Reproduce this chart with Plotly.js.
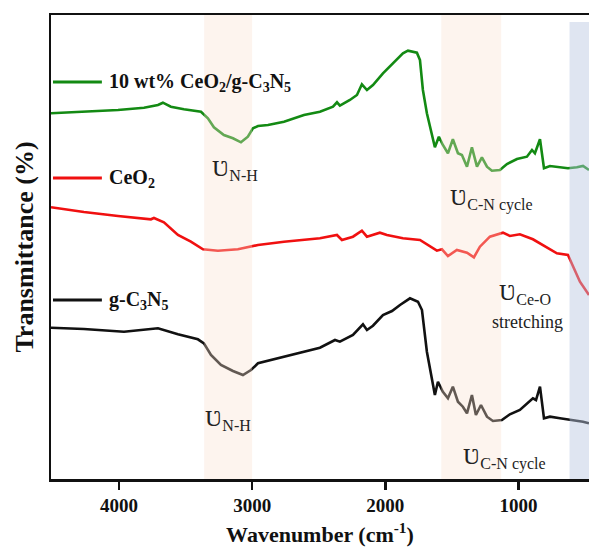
<!DOCTYPE html>
<html>
<head>
<meta charset="utf-8">
<script src="https://cdn.plot.ly/plotly-3.0.1.min.js"></script>
<style>html,body{margin:0;padding:0;background:#fff;}#chart{width:589px;height:556px;}</style>
</head>
<body>
<div id="chart"></div>
<script>
// Wavenumber (cm^-1) and transmittance (arbitrary offset units)
const compositeWn = [4510,4263,4007,3812,3707,3670,3610,3512,3384,3332,3287,3212,3144,3084,3032,2994,2956,2881,2761,2611,2491,2393,2363,2341,2266,2213,2176,2138,2093,2018,1943,1868,1830,1763,1740,1718,1688,1650,1628,1598,1568,1530,1493,1455,1425,1387,1350,1312,1275,1237,1200,1140,1087,1012,937,899,877,839,809,764,689,629,562,516,471];
const compositeT  = [365.7,367.3,369,371.3,374,376.3,372.3,369.7,367.3,360.7,351.7,344,340.7,336.7,342.3,350.7,353,354,357.3,364,367.3,372.3,376.7,373.3,379,384,394.7,389,394,405.7,415.7,425.7,428.3,426.3,419,389,365.7,342.3,331.7,342.3,334,325.7,339.7,325.7,324,312.3,331.7,312.3,321.7,312.3,308.3,309,315,320,322.3,329,325.7,339.7,310.7,313,311.3,310.7,311.7,313,309];

const ceo2Wn = [4510,4263,4007,3857,3760,3737,3662,3557,3460,3369,3257,3107,2956,2761,2491,2363,2326,2243,2176,2138,2041,1988,1868,1740,1665,1613,1575,1530,1463,1387,1335,1290,1215,1117,1065,990,892,787,712,629,592,539,471];
const ceo2T  = [271.7,267,263,261.3,259.7,261,256.7,244,237.3,229.7,228.3,229.7,234,237.3,240.7,244,239,242.3,248.3,242.3,246.3,244,240.7,239,232.3,228.3,229.7,223,229,226.3,221.7,232.3,242.3,246.3,243,244.7,239.7,231.7,225.7,224,212.3,197.3,184];

const gc3n5Wn = [4510,4263,3962,3707,3557,3407,3362,3309,3234,3144,3069,3009,2956,2761,2491,2378,2341,2243,2168,2138,2093,2018,1950,1890,1815,1755,1725,1688,1650,1628,1605,1568,1530,1493,1455,1418,1387,1350,1320,1282,1237,1192,1125,1065,990,929,892,869,839,809,764,689,592,516,471];
const gc3n5T  = [151.3,150,147.3,150.7,144.7,139.7,135.7,124,114,108,104,109,115.7,122.3,131.3,139,137.3,144,154.7,149,153.3,164,168,174,180.7,177.3,169,127.3,97.3,84,97.3,87.3,80.7,92.3,77.3,72.3,65.7,84,64,74,62.3,58,59,64.7,69,75.7,80.7,79,92.3,60.7,62.3,60.7,59,57.3,55.7];

const seriesNames = ["10 wt% CeO<sub>2</sub>/g-C<sub>3</sub>N<sub>5</sub>", "CeO<sub>2</sub>", "g-C<sub>3</sub>N<sub>5</sub>"];
const xTickVals = [4000, 3000, 2000, 1000];
const xTickText = ["4000", "3000", "2000", "1000"];
// highlighted bands [from, to] in cm^-1
const bandNH = [3360, 3000];
const bandCN = [1580, 1130];
const bandCeO = [617, 471];

const serif = "'Liberation Serif','Times New Roman',serif";
const colors = ["#138a13", "#f01010", "#111111"];

const traces = [
  {x: compositeWn, y: compositeT, mode: "lines", line: {color: colors[0], width: 2.6}, showlegend: false, hoverinfo: "skip"},
  {x: ceo2Wn, y: ceo2T, mode: "lines", line: {color: colors[1], width: 2.6}, showlegend: false, hoverinfo: "skip"},
  {x: gc3n5Wn, y: gc3n5T, mode: "lines", line: {color: colors[2], width: 2.6}, showlegend: false, hoverinfo: "skip"}
];

const shapes = [
  {type: "rect", xref: "x", yref: "paper", x0: bandNH[0], x1: bandNH[1], y0: 0, y1: 1, fillcolor: "rgb(249,224,206)", opacity: 0.35, line: {width: 0}, layer: "above"},
  {type: "rect", xref: "x", yref: "paper", x0: bandCN[0], x1: bandCN[1], y0: 0, y1: 1, fillcolor: "rgb(249,224,206)", opacity: 0.35, line: {width: 0}, layer: "above"},
  {type: "rect", xref: "x", yref: "paper", x0: bandCeO[0], x1: bandCeO[1], y0: 0, y1: 0.985, fillcolor: "rgb(185,198,225)", opacity: 0.45, line: {width: 0}, layer: "above"},
  // legend keys
  {type: "line", xref: "x", yref: "y", x0: 4495, x1: 4128, y0: 397, y1: 397, line: {color: colors[0], width: 3}},
  {type: "line", xref: "x", yref: "y", x0: 4495, x1: 4128, y0: 301, y1: 301, line: {color: colors[1], width: 3}},
  {type: "line", xref: "x", yref: "y", x0: 4495, x1: 4128, y0: 179, y1: 179, line: {color: colors[2], width: 3}}
];

const legendFont = {family: serif, size: 20, color: "#111", weight: "bold"};
const labelFont = {family: serif, size: 24, color: "#222"};
const sym = "\u01B2";
const annotations = [
  {x: 4090, y: 397, xref: "x", yref: "y", text: seriesNames[0], showarrow: false, xanchor: "left", yanchor: "middle", font: legendFont},
  {x: 4090, y: 301, xref: "x", yref: "y", text: seriesNames[1], showarrow: false, xanchor: "left", yanchor: "middle", font: legendFont},
  {x: 4090, y: 179, xref: "x", yref: "y", text: seriesNames[2], showarrow: false, xanchor: "left", yanchor: "middle", font: legendFont},
  {x: 3129, y: 310, xref: "x", yref: "y", text: sym + "<sub><span style='font-size:16px'>N-H</span></sub>", showarrow: false, font: labelFont},
  {x: 3182, y: 60, xref: "x", yref: "y", text: sym + "<sub><span style='font-size:16px'>N-H</span></sub>", showarrow: false, font: labelFont},
  {x: 1200, y: 280, xref: "x", yref: "y", text: sym + "<sub><span style='font-size:16px'>C-N cycle</span></sub>", showarrow: false, font: labelFont},
  {x: 952, y: 186, xref: "x", yref: "y", text: sym + "<sub><span style='font-size:16px'>Ce-O</span></sub>", showarrow: false, font: labelFont},
  {x: 929, y: 157, xref: "x", yref: "y", text: "stretching", showarrow: false, font: {family: serif, size: 18, color: "#222"}},
  {x: 1102, y: 21, xref: "x", yref: "y", text: sym + "<sub><span style='font-size:16px'>C-N cycle</span></sub>", showarrow: false, font: labelFont}
];

const layout = {
  width: 589, height: 556,
  margin: {l: 51, r: 0, t: 15, b: 77},
  paper_bgcolor: "#ffffff", plot_bgcolor: "#ffffff",
  showlegend: false,
  xaxis: {
    range: [4510, 471], showgrid: false, zeroline: false,
    showline: true, linecolor: "#111", linewidth: 2.5, mirror: true,
    ticks: "outside", ticklen: 8, tickwidth: 2.5, tickcolor: "#111",
    tickvals: xTickVals, ticktext: xTickText,
    tickfont: {family: serif, size: 19, color: "#111", weight: "bold"},
    title: {text: "Wavenumber (cm<sup>-1</sup>)", font: {family: serif, size: 22, color: "#111", weight: "bold"}, standoff: 12}
  },
  yaxis: {
    range: [0, 464], showgrid: false, zeroline: false,
    showline: true, linecolor: "#111", linewidth: 2.5, mirror: false,
    showticklabels: false, ticks: "",
    title: {text: "Transmittance (%)", font: {family: serif, size: 26, color: "#111", weight: "bold"}, standoff: 8}
  },
  shapes: shapes,
  annotations: annotations
};

Plotly.newPlot("chart", traces, layout, {displayModeBar: false, staticPlot: true});
</script>
</body>
</html>
